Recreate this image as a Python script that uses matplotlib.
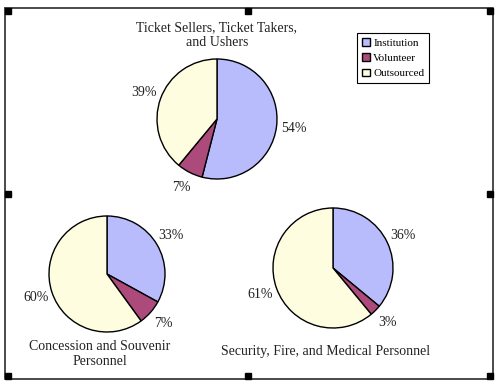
import matplotlib
matplotlib.use("Agg")
import matplotlib.pyplot as plt
from matplotlib.patches import Rectangle

plt.rcParams['font.family'] = ['Liberation Serif', 'DejaVu Serif']

# data
categories = ['Institution', 'Volunteer', 'Outsourced']
colors = ['#b8bcfd', '#ad4a7c', '#fffde0']
titles = ['Ticket Sellers, Ticket Takers,\nand Ushers',
          'Concession and Souvenir\nPersonnel',
          'Security, Fire, and Medical Personnel']
ticket_vals = [54, 7, 39]
concession_vals = [33, 7, 60]
security_vals = [36, 3, 61]

W, H = 500, 387
fig = plt.figure(figsize=(5, 3.87), dpi=100)
ax = fig.add_axes([0, 0, 1, 1])

# (values, center in px from top-left, radius, title position)
pies = [
    (ticket_vals, (217, 119), 60, (217, 35)),
    (concession_vals, (107, 274), 58, (100, 354)),
    (security_vals, (333, 268), 60, (326, 351)),
]

wedge_handles = None
for (vals, (cx, cy), r, (tx, ty)), title in zip(pies, titles):
    wedges, _, autotexts = ax.pie(
        vals, colors=colors, startangle=90, counterclock=False,
        center=(cx, H - cy), radius=r,
        autopct=lambda p: f'{p:.0f}%', pctdistance=1.29,
        wedgeprops=dict(edgecolor='black', linewidth=1.0),
        textprops=dict(fontsize=10, color='#222222'))
    if wedge_handles is None:
        wedge_handles = wedges
    ax.text(tx, H - ty, title, ha='center', va='center', fontsize=10,
            color='#222222', linespacing=1.2)

ax.set_xlim(0, W)
ax.set_ylim(0, H)
ax.set_aspect('auto')
ax.axis('off')

# outer frame with selection handles (sitting just inside the frame)
x0, x1, y0, y1 = 4.5, 492.5, H - 378.5, H - 7.5
ax.plot([x0, x1, x1, x0, x0], [y1, y1, y0, y0, y1], color='#4a4a4a', lw=1.4)
s = 6
for hx, hy in [(x0, y1 - s), (248 - s / 2, y1 - s), (x1 - s, y1 - s),
               (x0, H - 197), (x1 - s, H - 197),
               (x0, y0), (248 - s / 2, y0), (x1 - s, y0)]:
    ax.add_patch(Rectangle((hx, hy), s, s, color='black', zorder=5))

leg = ax.legend(wedge_handles, categories, loc='upper left',
                bbox_to_anchor=(357 / W, 1 - 33 / H), fontsize=8,
                fancybox=False, edgecolor='black', framealpha=1,
                handlelength=0.7, handleheight=0.7, handletextpad=0.3,
                borderpad=0.45, labelspacing=0.5, borderaxespad=0)
leg.get_frame().set_linewidth(0.8)

fig.savefig('out.png', dpi=100)
